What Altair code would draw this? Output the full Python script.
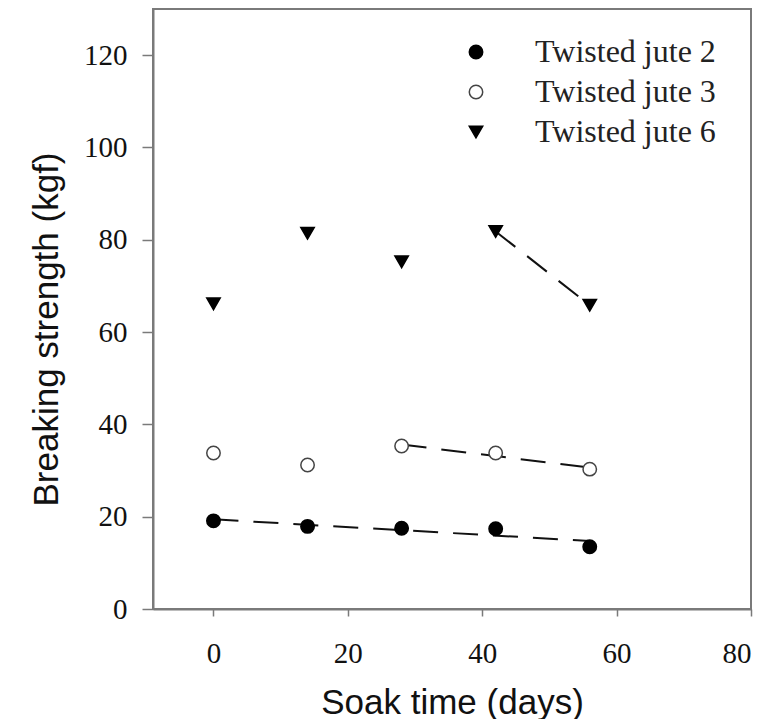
import altair as alt
import pandas as pd

days = [0, 14, 28, 42, 56]
series_names = ["Twisted jute 2", "Twisted jute 3", "Twisted jute 6"]
jute2 = [19.1, 17.9, 17.5, 17.4, 13.5]
jute3 = [33.8, 31.2, 35.3, 33.8, 30.3]
jute6 = [66.1, 81.4, 75.2, 81.8, 65.8]
fit_start = [0, 28, 42]   # first day of each series' fitted dashed line

x_ticks = [0, 20, 40, 60, 80]
y_ticks = [0, 20, 40, 60, 80, 100, 120]

rows = []
for name, vals, start in zip(series_names, [jute2, jute3, jute6], fit_start):
    for d, v in zip(days, vals):
        rows.append({"day": d, "strength": v, "series": name, "in_fit": d >= start})
df = pd.DataFrame(rows)

grey = "#7a7a7a"

x_enc = alt.X("day:Q", scale=alt.Scale(domain=[-9, 80], nice=False, zero=False),
              axis=alt.Axis(values=x_ticks, title="Soak time (days)", grid=False,
                            tickSize=7, labelPadding=23, titleY=104,
                            titleBaseline="alphabetic"))
y_enc = alt.Y("strength:Q", scale=alt.Scale(domain=[0, 130], nice=False),
              axis=alt.Axis(values=y_ticks, title="Breaking strength (kgf)", grid=False,
                            tickSize=11, labelPadding=15, titleX=-96, titleY=320,
                            titleAngle=-90, titleBaseline="alphabetic", titleAlign="center"))

points = alt.Chart(df).mark_point(filled=True, opacity=1, strokeWidth=1.5).encode(
    x=x_enc,
    y=y_enc,
    shape=alt.Shape("series:N", scale=alt.Scale(domain=series_names,
                    range=["circle", "circle", "triangle-down"]), legend=alt.Legend(title=None)),
    fill=alt.Fill("series:N", scale=alt.Scale(domain=series_names,
                  range=["black", "white", "black"]), legend=alt.Legend(title=None)),
    stroke=alt.Stroke("series:N", scale=alt.Scale(domain=series_names,
                      range=["black", "#444444", "black"]), legend=alt.Legend(title=None)),
    size=alt.Size("series:N", scale=alt.Scale(domain=series_names,
                  range=[180, 180, 300]), legend=alt.Legend(title=None)),
)

lines = alt.Chart(df).transform_filter("datum.in_fit").transform_regression(
    "day", "strength", groupby=["series"]
).mark_line(color="#111111", strokeWidth=2, strokeDash=[25, 15]).encode(
    x="day:Q", y="strength:Q", detail="series:N"
)

chart = alt.layer(lines, points).properties(
    width=598, height=600,
    autosize=alt.AutoSizeParams(type="none"),
    padding={"left": 145, "top": 1, "right": 20, "bottom": 110},
).configure_view(
    stroke=grey, strokeWidth=2
).configure_axis(
    domainColor=grey, domainWidth=2, tickColor=grey, tickWidth=1.5,
    labelFont="Liberation Serif", labelFontSize=29, labelColor="#111111",
    titleFont="Liberation Sans", titleFontSize=35, titleFontWeight="normal", titleColor="#111111",
).configure_legend(
    orient="none", legendX=307, legendY=27, padding=0,
    labelFont="Liberation Serif", labelFontSize=32, labelColor="#222222", labelLimit=400,
    labelOffset=43, rowPadding=8, symbolStrokeWidth=1.5,
)

chart.save("out.html", embed_options={"renderer": "svg", "actions": False})
